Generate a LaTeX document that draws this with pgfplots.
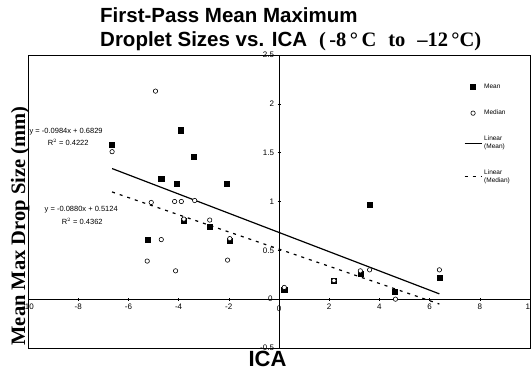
\documentclass[border=0pt]{standalone}
\usepackage{fontspec}
\setmainfont{Liberation Sans}
\newfontfamily\timesf{Liberation Serif}
\usepackage{pgfplots}
\pgfplotsset{compat=1.18}
\begin{document}
\begin{tikzpicture}
\path[use as bounding box] (-28pt,-23pt) rectangle (503pt,348pt);
\begin{axis}[at={(0pt,0pt)}, anchor=south west, scale only axis,
  width=502pt, height=293pt,
  xmin=-10, xmax=10, ymin=-0.5, ymax=2.5,
  axis lines=middle, axis line style={-, thin, black},
  xtick={-10,-8,-6,-4,-2,0,2,4,6,8,10},
  ytick={-0.5,0,0.5,1,1.5,2,2.5},
  yticklabels={-0.5,0,0.5,1,1.5,2,2.5},
  tick style={black, thin}, major tick length=3pt,
  tick label style={font=\fontsize{8}{9}\selectfont},
  /pgf/number format/assume math mode=true,
  clip=false,
  legend cell align=left,
  legend style={at={(0.862,0.915)}, anchor=north west, draw=none, fill=none,
    font=\fontsize{6.5}{7.5}\selectfont, row sep=16pt, cells={align=left}},
]
\draw[thin] (rel axis cs:0,0) rectangle (rel axis cs:1,1);
\addplot[only marks, mark=square*, mark size=2.6pt, black] coordinates {
(-6.65,1.58) (-4.69,1.23) (-4.09,1.18) (-3.92,1.73) (-3.39,1.46) (-2.08,1.18)
(-3.79,0.80) (-2.76,0.74) (-5.23,0.61) (-1.96,0.60) (0.21,0.10) (2.19,0.19)
(3.24,0.26) (3.61,0.97) (4.61,0.08) (6.39,0.22)};
\addlegendentry{Mean}
\addplot[only marks, mark=*, mark size=2.2pt, mark options={draw=black, fill=white, line width=0.6pt}] coordinates {
(-6.65,1.51) (-4.92,2.13) (-5.09,0.99) (-4.16,1.00) (-3.89,1.00) (-3.36,1.01)
(-3.79,0.82) (-2.76,0.81) (-4.69,0.61) (-1.96,0.62) (-5.25,0.39) (-4.12,0.29)
(-2.05,0.40) (0.21,0.12) (2.19,0.19) (3.24,0.29) (3.61,0.30) (4.64,0.0) (6.39,0.30)};
\addlegendentry{Median}
\addplot[black, line width=1.2pt] coordinates {(-6.65,1.3373) (6.39,0.0541)};
\addlegendentry{Linear\\(Mean)}
\addplot[black, line width=1.2pt, dash pattern=on 3pt off 5pt] coordinates {(-6.65,1.0976) (6.39,-0.0499)};
\addlegendentry{Linear\\(Median)}
\node[font=\fontsize{7.5}{8}\selectfont] at (axis cs:-8.48,1.71) {y = -0.0984x + 0.6829};
\node[font=\fontsize{7.5}{8}\selectfont] at (axis cs:-8.4,1.60) {R$^2$ = 0.4222};
\node[font=\fontsize{7.5}{8}\selectfont] at (axis cs:-7.88,0.92) {y = -0.0880x + 0.5124};
\node[font=\fontsize{7.5}{8}\selectfont] at (axis cs:-7.84,0.80) {R$^2$ = 0.4362};
\node[anchor=north, font=\fontsize{8}{9}\selectfont, yshift=-3pt] at (axis cs:0,0) {0};
\node[anchor=east, font=\fontsize{8}{9}\selectfont, xshift=-3pt] at (axis cs:0,0) {0};
\end{axis}
\node[anchor=base west, inner sep=0pt, font=\bfseries\fontsize{20.5}{22}\selectfont] at (72pt,325pt) {First-Pass Mean Maximum};
\node[anchor=base west, inner sep=0pt, font=\bfseries\fontsize{20.5}{22}\selectfont] at (72pt,301pt) {Droplet Sizes vs. ICA\hspace{12pt}{\timesf(\,-8\,°\,C\, \,to\, \,–12\,°C)}};
\node[rotate=90, anchor=base, inner sep=0pt, font=\timesf\bfseries\fontsize{20.5}{22}\selectfont] at (-3pt,122pt) {Mean Max Drop Size (mm)};
\node[anchor=base, inner sep=0pt, font=\bfseries\fontsize{22}{24}\selectfont] at (239.5pt,-19pt) {ICA};
\end{tikzpicture}
\end{document}
